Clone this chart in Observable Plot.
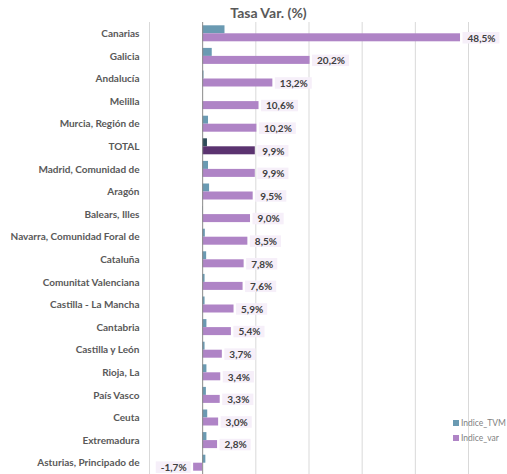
<!DOCTYPE html>
<html>
<head>
<meta charset="utf-8">
<script src="https://cdn.jsdelivr.net/npm/d3@7"></script>
<script src="https://cdn.jsdelivr.net/npm/@observablehq/plot@0.6"></script>
<style>
  body { margin: 0; background: #fff; }
  #wrap { position: relative; width: 507px; height: 474px; overflow: hidden; font-family: Lato, "Open Sans", sans-serif; }
  #title { position: absolute; top: 4px; left: 0; width: 537px; text-align: center; font-weight: bold; font-size: 14px; color: #595959; }
  #legend { position: absolute; left: 453px; top: 416px; font-size: 8.5px; color: #7f7f7f; line-height: 15px; white-space: nowrap; }
  #legend .sw { display: inline-block; width: 6px; height: 6px; margin-right: 2px; vertical-align: 0px; }
</style>
</head>
<body>
<div id="wrap">
  <div id="title">Tasa Var. (%)</div>
  <div id="legend"></div>
</div>
<script>
const categories = [
  "Canarias", "Galicia", "Andalucía", "Melilla", "Murcia, Región de", "TOTAL",
  "Madrid, Comunidad de", "Aragón", "Balears, Illes", "Navarra, Comunidad Foral de",
  "Cataluña", "Comunitat Valenciana", "Castilla - La Mancha", "Cantabria",
  "Castilla y León", "Rioja, La", "País Vasco", "Ceuta", "Extremadura", "Asturias, Principado de"
];
const indiceTVM = [4.2, 1.8, 0.25, 0.0, 1.1, 0.9, 1.1, 1.3, 0.1, 0.5, 0.75, 0.45, 0.45, 0.8, 0.45, 0.8, 0.7, 0.95, 0.8, 0.6];
const indiceVar = [48.5, 20.2, 13.2, 10.6, 10.2, 9.9, 9.9, 9.5, 9.0, 8.5, 7.8, 7.6, 5.9, 5.4, 3.7, 3.4, 3.3, 3.0, 2.8, -1.7];
const xTicks = [-10, 0, 10, 20, 30, 40, 50];
const seriesNames = ["Indice_TVM", "Indice_var"];
const totalName = "TOTAL";

const colTVM = "#6a9ab2", colVar = "#af84c6", colTVMTotal = "#2d4b58", colVarTotal = "#5b3370";

const rows = categories.map((c, i) => ({cat: c, tvm: indiceTVM[i], v: indiceVar[i], total: c === totalName}));
const fmt = v => d3.format(".1f")(v).replace(".", ",").replace("−", "-") + "%";

const half = 11.3;
const chart = Plot.plot({
  width: 507, height: 474,
  marginLeft: 149, marginRight: 39, marginTop: 22, marginBottom: 0,
  style: {fontFamily: "Lato, 'Open Sans', sans-serif", background: "transparent", overflow: "visible"},
  x: {domain: [-10, 50], axis: null},
  y: {domain: categories, padding: 0, round: false, axis: null},
  marks: [
    Plot.ruleX(xTicks.filter(t => t !== 0), {stroke: "#d9d9d9", strokeWidth: 1}),
    Plot.barX(rows, {filter: d => !d.total, x: "tvm", y: "cat", fill: colTVM, insetTop: half - 8, insetBottom: half}),
    Plot.barX(rows, {filter: d => d.total, x: "tvm", y: "cat", fill: colTVMTotal, insetTop: half - 8, insetBottom: half}),
    Plot.barX(rows, {filter: d => !d.total, x: "v", y: "cat", fill: colVar, insetTop: half, insetBottom: half - 8}),
    Plot.barX(rows, {filter: d => d.total, x: "v", y: "cat", fill: colVarTotal, insetTop: half, insetBottom: half - 8}),
    Plot.ruleX([0], {stroke: "#8a8a8a", strokeWidth: 1}),
    Plot.axisY({tickSize: 0, tickPadding: 10, fontSize: 10, fontWeight: "bold", color: "#595959", label: null}),
    Plot.text(rows, {filter: d => d.v >= 0, x: "v", y: "cat", text: d => fmt(d.v), textAnchor: "start", dx: 7, dy: 4.5,
      fontSize: 10, fontWeight: "bold", fill: "#404040"}),
    Plot.text(rows, {filter: d => d.v < 0, x: "v", y: "cat", text: d => fmt(d.v), textAnchor: "end", dx: -7, dy: 4.5,
      fontSize: 10, fontWeight: "bold", fill: "#404040"})
  ]
});
chart.style.position = "absolute";
chart.style.left = "0px";
chart.style.top = "0px";
const wrap = document.getElementById("wrap");
wrap.insertBefore(chart, wrap.firstChild);

// light background boxes behind the value labels
const svgNS = "http://www.w3.org/2000/svg";
Array.from(chart.querySelectorAll("text")).filter(t => /%$/.test(t.textContent.trim())).forEach(t => {
  const b = t.getBBox();
  const r = document.createElementNS(svgNS, "rect");
  r.setAttribute("x", b.x - 5);
  r.setAttribute("y", b.y + 0.5);
  r.setAttribute("width", b.width + 9);
  r.setAttribute("height", b.height - 0.5);
  r.setAttribute("fill", "#f6eff9");
  const tr = t.getAttribute("transform");
  if (tr) r.setAttribute("transform", tr);
  t.parentNode.insertBefore(r, t);
});

// legend
const legend = d3.select("#legend");
[[seriesNames[0], colTVM], [seriesNames[1], colVar]].forEach(([name, col]) => {
  const item = legend.append("div");
  item.append("span").attr("class", "sw").style("background", col);
  item.append("span").text(name);
});
</script>
</body>
</html>
